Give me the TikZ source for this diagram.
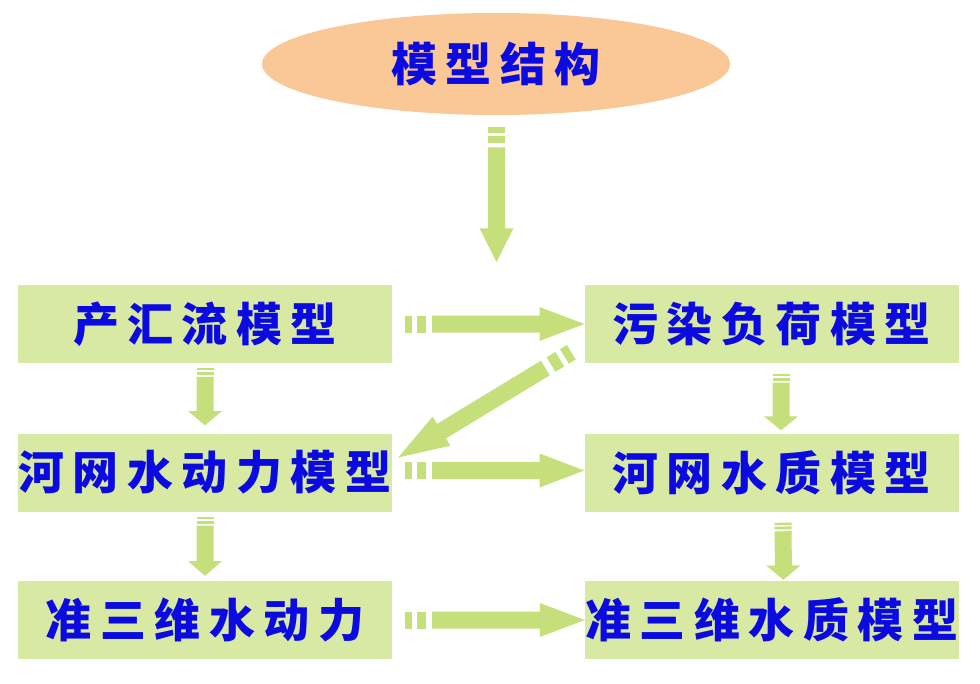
\documentclass[tikz,border=0pt]{standalone}
\usepackage{fontspec}
\newfontfamily\cjk{Noto Sans CJK SC}
\usetikzlibrary{calc,shapes.geometric,backgrounds}
\definecolor{peach}{RGB}{250,200,150}
\definecolor{boxg}{RGB}{215,233,162}
\definecolor{arrg}{RGB}{197,224,122}
\definecolor{txtb}{RGB}{10,10,225}

\newlength\spgap \setlength\spgap{8.5pt}
\def\spreadA#1{\ifx#1\relax\else #1\expandafter\spreadB\fi}
\def\spreadB#1{\ifx#1\relax\else\hskip\spgap #1\expandafter\spreadB\fi}
\newcommand\spread[1]{\spreadA#1\relax}

% striped block arrow from #1 to #2
\newcommand\sarrow[2]{%
  \path let \p1=(#1),\p2=(#2) in \pgfextra{%
    \pgfmathsetmacro\sarang{atan2(\y2-\y1,\x2-\x1)}%
    \pgfmathsetmacro\sarlen{veclen(\x2-\x1,\y2-\y1)}%
    \xdef\sarang{\sarang}\xdef\sarlen{\sarlen}%
    \xdef\sarx{\x1}\xdef\sary{\y1}};
  \pgfmathsetmacro\sa{0.04*\sarlen}%
  \pgfmathsetmacro\sb{0.0667*\sarlen}%
  \pgfmathsetmacro\sc{0.117*\sarlen}%
  \pgfmathsetmacro\sd{0.15*\sarlen}%
  \pgfmathsetmacro\sh{0.75*\sarlen}%
  \begin{scope}[shift={(\sarx,\sary)},rotate=\sarang]
    \fill[arrg] (0pt,-8.5pt) rectangle (\sa pt,8.5pt);
    \fill[arrg] (\sb pt,-8.5pt) rectangle (\sc pt,8.5pt);
    \fill[arrg] (\sd pt,-8.5pt) -- (\sh pt,-8.5pt) -- (\sh pt,-17pt)
      -- (\sarlen pt,0pt) -- (\sh pt,17pt) -- (\sh pt,8.5pt) -- (\sd pt,8.5pt) -- cycle;
  \end{scope}}

\tikzset{
  lbl/.style={text=txtb, font=\cjk\bfseries\fontsize{46pt}{46pt}\selectfont, inner sep=0pt},
  ell/.style={lbl, ellipse, fill=peach, minimum width=468pt, minimum height=102pt},
  mbox/.style={lbl, rectangle, fill=boxg, minimum width=374pt, minimum height=78pt},
}

\begin{document}
\begin{tikzpicture}[x=1pt,y=-1pt]
\useasboundingbox (0,0) rectangle (980,683);

\node[ell] (top) at (496,64) {\spread{模型结构}};
\node[mbox] (b1) at (205,324) {\spread{产汇流模型}};
\node[mbox] (b2) at (771.5,324) {\spread{污染负荷模型}};
\node[mbox] (b3) at (205,472.5) {\spread{河网水动力模型}};
\node[mbox] (b4) at (771.5,472.5) {\spread{河网水质模型}};
\node[mbox] (b5) at (205,620) {\spread{准三维水动力}};
\node[mbox] (b6) at (772,620) {\spread{准三维水质模型}};
\coordinate (toptip) at (496.5,262);

\begin{scope}[on background layer]
  \fill[white] (0,0) rectangle (980,683);
  \sarrow{$(top.south)+(0.5,12)$}{toptip}
  \sarrow{$(b1.east)+(13,0)$}{b2.west}
  \sarrow{$(b1.south)+(0,5)$}{$(b3.north)+(0,-8)$}
  \sarrow{$(b2.south)+(9.5,11)$}{$(b4.north)+(9.5,-3)$}
  \sarrow{$(b2.south west)+(-13,-11)$}{$(b3.east)+(6,-15)$}
  \sarrow{$(b3.east)+(13,-2)$}{$(b4.west)+(0,-2)$}
  \sarrow{$(b3.south)+(0,5)$}{$(b5.north)+(0,-5)$}
  \sarrow{$(b4.south)+(11.5,11)$}{$(b6.north)+(11.5,-1)$}
  \sarrow{$(b5.east)+(13,0)$}{b6.west}
\end{scope}
\end{tikzpicture}
\end{document}
